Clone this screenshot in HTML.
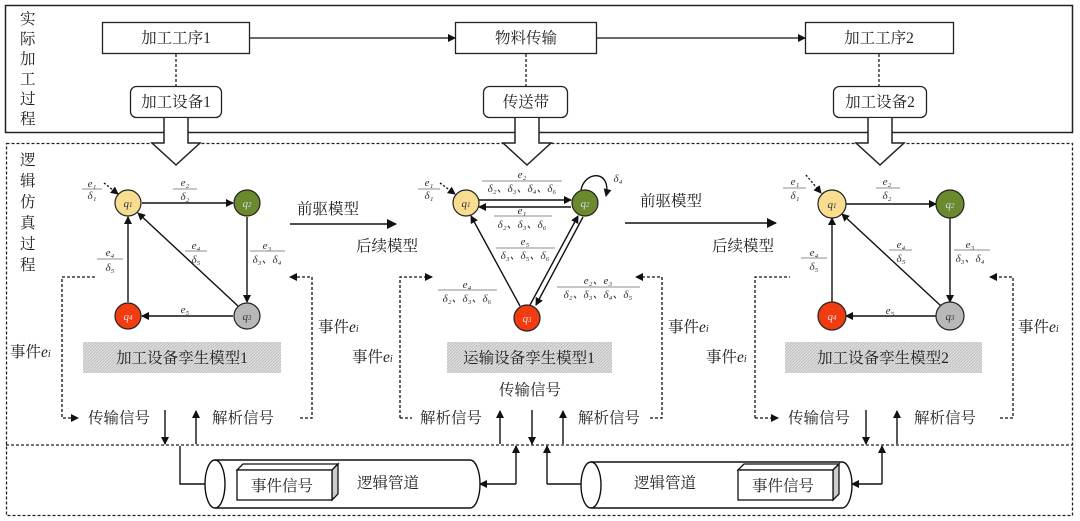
<!DOCTYPE html>
<html><head><meta charset="utf-8"><style>
html,body{margin:0;padding:0;background:#fff}
svg{display:block}
.t{font-family:"Liberation Serif","Noto Serif CJK SC",serif;font-size:15.5px;fill:#222}
.f{font-family:"Liberation Serif",serif;font-style:italic;font-size:11px;fill:#333;text-anchor:middle}
.q{font-family:"Liberation Serif",serif;font-style:italic;font-size:11px;text-anchor:middle}
</style></head><body>
<svg width="1080" height="521" viewBox="0 0 1080 521" xmlns="http://www.w3.org/2000/svg">
<defs>
<marker id="a" markerWidth="8" markerHeight="8" refX="7" refY="4" orient="auto" markerUnits="userSpaceOnUse"><path d="M0,0 L8,4 L0,8 z" fill="#111"/></marker>
<marker id="s" markerWidth="10" markerHeight="10" refX="9" refY="5" orient="auto" markerUnits="userSpaceOnUse"><path d="M0,0 L10,5 L0,10 z" fill="#111"/></marker>
<pattern id="h" width="3" height="3" patternUnits="userSpaceOnUse"><rect width="3" height="3" fill="#ddd"/><path d="M0,3 L3,0" stroke="#bbb" stroke-width="0.8"/></pattern>
</defs>
<rect x="5.5" y="5.5" width="1067" height="127" fill="none" stroke="#222" stroke-width="1.5"/>
<rect x="6.5" y="143.5" width="1066" height="372" fill="none" stroke="#222" stroke-width="1.3" stroke-dasharray="3,2"/>
<line x1="6" y1="445" x2="1073" y2="445" stroke="#222" stroke-width="1.3" stroke-dasharray="3,2"/>
<g class="t">
<text x="20" y="24">实</text><text x="20" y="44">际</text><text x="20" y="64">加</text><text x="20" y="84">工</text><text x="20" y="104">过</text><text x="20" y="124">程</text>
<text x="20" y="165">逻</text><text x="20" y="186">辑</text><text x="20" y="207">仿</text><text x="20" y="228">真</text><text x="20" y="249">过</text><text x="20" y="270">程</text>
</g>
<g fill="#fff" stroke="#222" stroke-width="1.3">
<rect x="102.5" y="22.5" width="147" height="31"/>
<rect x="455.5" y="22.5" width="141" height="31"/>
<rect x="805.5" y="22.5" width="148" height="31"/>
<rect x="130.5" y="86.5" width="91" height="31" rx="6"/>
<rect x="483.5" y="86.5" width="84" height="31" rx="6"/>
<rect x="833.5" y="86.5" width="93" height="31" rx="6"/>
</g>
<g stroke="#222" stroke-width="1.3" stroke-dasharray="3,2"><line x1="176" y1="54" x2="176" y2="86"/><line x1="526" y1="54" x2="526" y2="86"/><line x1="879" y1="54" x2="879" y2="86"/></g>
<g stroke="#111" stroke-width="1.3"><line x1="250" y1="38" x2="455" y2="38" marker-end="url(#a)"/><line x1="597" y1="38" x2="805" y2="38" marker-end="url(#a)"/></g>
<g class="t" text-anchor="middle">
<text x="176" y="43">加工工序1</text><text x="526" y="43">物料传输</text><text x="879" y="43">加工工序2</text>
<text x="176" y="107">加工设备1</text><text x="526" y="107">传送带</text><text x="880" y="107">加工设备2</text>
</g>
<g fill="#fff" stroke="#222" stroke-width="1.5">
<path d="M164,118 V143 H152 L176,165 L200,143 H188 V118"/>
<path d="M515,118 V143 H503 L527,165 L551,143 H539 V118"/>
<path d="M868,118 V143 H856 L880,165 L904,143 H892 V118"/>
</g>

<!-- Graph 1 -->
<g stroke="#111" stroke-width="1.4" fill="none">
<line x1="142" y1="203" x2="233" y2="203" marker-end="url(#a)"/>
<line x1="247" y1="217" x2="247" y2="302" marker-end="url(#a)"/>
<line x1="233" y1="316" x2="142" y2="316" marker-end="url(#a)"/>
<line x1="128" y1="302" x2="128" y2="217" marker-end="url(#a)"/>
<line x1="238" y1="306" x2="138" y2="213" marker-end="url(#a)"/>
<line x1="104" y1="183" x2="118" y2="194" stroke-dasharray="2,2" marker-end="url(#a)"/>
</g>
<g stroke="#222" stroke-width="1.2">
<circle cx="128" cy="203" r="13" fill="#f8dc90"/><circle cx="247" cy="203" r="13" fill="#6a8a2d"/>
<circle cx="247" cy="316" r="13" fill="#b8b8b8"/><circle cx="128" cy="316" r="13" fill="#f03c10"/>
</g>
<g class="q"><text x="128" y="207" fill="#333">q<tspan font-size="7">1</tspan></text><text x="247" y="207" fill="#cde">q<tspan font-size="7">2</tspan></text><text x="247" y="320" fill="#333">q<tspan font-size="7">3</tspan></text><text x="128" y="320" fill="#fdd">q<tspan font-size="7">4</tspan></text></g>
<g class="f">
<text x="92" y="187">e₁</text><text x="92" y="199">δ₁</text>
<text x="185" y="186">e₂</text><text x="185" y="200">δ₂</text>
<text x="267" y="249">e₃</text><text x="267" y="263">δ₃、δ₄</text>
<text x="196" y="249">e₄</text><text x="196" y="263">δ₅</text>
<text x="110" y="256">e₄</text><text x="110" y="271">δ₅</text>
<text x="185" y="313">e₅</text>
</g>
<g stroke="#666" stroke-width="0.7"><line x1="82" y1="189" x2="102" y2="189"/><line x1="173" y1="189" x2="197" y2="189"/><line x1="250" y1="251" x2="285" y2="251"/><line x1="185" y1="251" x2="207" y2="251"/><line x1="97" y1="259" x2="123" y2="259"/></g>
<rect x="83" y="342" width="198" height="31" fill="url(#h)"/>
<text class="t" x="182" y="363" text-anchor="middle">加工设备孪生模型1</text>

<!-- Graph 2 -->
<g stroke="#111" stroke-width="1.4" fill="none">
<line x1="479" y1="200" x2="571" y2="200" marker-end="url(#a)"/>
<line x1="571" y1="207" x2="479" y2="207" marker-end="url(#a)"/>
<line x1="520" y1="306" x2="471" y2="216" marker-end="url(#a)"/>
<line x1="530" y1="305" x2="578" y2="216" marker-end="url(#a)"/>
<line x1="583" y1="217" x2="536" y2="305" marker-end="url(#a)"/>
<path d="M581,190 C585,170 612,170 606,196" marker-end="url(#a)"/>
<line x1="440" y1="183" x2="455" y2="194" stroke-dasharray="2,2" marker-end="url(#a)"/>
</g>
<g stroke="#222" stroke-width="1.2">
<circle cx="466" cy="203" r="13" fill="#f8dc90"/><circle cx="585" cy="203" r="13" fill="#6a8a2d"/><circle cx="527" cy="318" r="13" fill="#f03c10"/>
</g>
<g class="q"><text x="466" y="207" fill="#333">q<tspan font-size="7">1</tspan></text><text x="585" y="207" fill="#cde">q<tspan font-size="7">2</tspan></text><text x="527" y="322" fill="#fdd">q<tspan font-size="7">3</tspan></text></g>
<g class="f">
<text x="429" y="186">e₁</text><text x="429" y="199">δ₁</text>
<text x="522" y="178">e₂</text><text x="522" y="192">δ₂、δ₃、δ₄、δ₆</text>
<text x="522" y="214">e₁</text><text x="522" y="228">δ₂、δ₃、δ₆</text>
<text x="525" y="245">e₅</text><text x="525" y="259">δ₃、δ₅、δ₆</text>
<text x="467" y="288">e₄</text><text x="467" y="302">δ₂、δ₃、δ₆</text>
<text x="598" y="284">e₂、e₃</text><text x="598" y="298">δ₂、δ₃、δ₄、δ₅</text>
<text x="618" y="182">δ₄</text>
</g>
<g stroke="#666" stroke-width="0.7"><line x1="482" y1="181" x2="562" y2="181"/><line x1="418" y1="189" x2="440" y2="189"/><line x1="494" y1="216" x2="552" y2="216"/><line x1="496" y1="248" x2="555" y2="248"/><line x1="438" y1="290" x2="497" y2="290"/><line x1="557" y1="287" x2="640" y2="287"/></g>
<rect x="447" y="342" width="165" height="31" fill="url(#h)"/>
<text class="t" x="529" y="363" text-anchor="middle">运输设备孪生模型1</text>
<text class="t" x="530" y="395" text-anchor="middle">传输信号</text>

<!-- Graph 3 -->
<g stroke="#111" stroke-width="1.4" fill="none">
<line x1="846" y1="204" x2="936" y2="204" marker-end="url(#a)"/>
<line x1="950" y1="218" x2="950" y2="302" marker-end="url(#a)"/>
<line x1="936" y1="316" x2="846" y2="316" marker-end="url(#a)"/>
<line x1="832" y1="302" x2="832" y2="218" marker-end="url(#a)"/>
<line x1="941" y1="306" x2="842" y2="214" marker-end="url(#a)"/>
<line x1="806" y1="175" x2="821" y2="193" stroke-dasharray="2,2" marker-end="url(#a)"/>
</g>
<g stroke="#222" stroke-width="1.2">
<circle cx="832" cy="204" r="14" fill="#f8dc90"/><circle cx="950" cy="204" r="14" fill="#6a8a2d"/>
<circle cx="950" cy="316" r="14" fill="#b8b8b8"/><circle cx="832" cy="316" r="14" fill="#f03c10"/>
</g>
<g class="q"><text x="832" y="208" fill="#333">q<tspan font-size="7">1</tspan></text><text x="950" y="208" fill="#cde">q<tspan font-size="7">2</tspan></text><text x="950" y="320" fill="#333">q<tspan font-size="7">3</tspan></text><text x="832" y="320" fill="#fdd">q<tspan font-size="7">4</tspan></text></g>
<g class="f">
<text x="795" y="185">e₁</text><text x="795" y="199">δ₁</text>
<text x="887" y="185">e₂</text><text x="887" y="199">δ₂</text>
<text x="970" y="248">e₃</text><text x="970" y="262">δ₃、δ₄</text>
<text x="901" y="248">e₄</text><text x="901" y="262">δ₅</text>
<text x="814" y="256">e₄</text><text x="814" y="270">δ₅</text>
<text x="890" y="314">e₅</text>
</g>
<g stroke="#666" stroke-width="0.7"><line x1="783" y1="188" x2="806" y2="188"/><line x1="876" y1="188" x2="900" y2="188"/><line x1="954" y1="250" x2="990" y2="250"/><line x1="889" y1="250" x2="912" y2="250"/><line x1="801" y1="258" x2="827" y2="258"/></g>
<rect x="785" y="342" width="197" height="31" fill="url(#h)"/>
<text class="t" x="883" y="363" text-anchor="middle">加工设备孪生模型2</text>

<g stroke="#111" stroke-width="1.5"><line x1="290" y1="224" x2="396" y2="224" marker-end="url(#s)"/><line x1="625" y1="223" x2="776" y2="223" marker-end="url(#s)"/></g>
<g class="t"><text x="297" y="214">前驱模型</text><text x="356" y="251">后续模型</text><text x="640" y="206">前驱模型</text><text x="712" y="251">后续模型</text></g>

<g stroke="#111" stroke-width="1.3" fill="none" stroke-dasharray="3,2">
<path d="M95,277 H62 V418 H78" marker-end="url(#a)"/>
<path d="M300,418 H312 V277 H290" marker-end="url(#a)"/>
<path d="M400,418 H412 M400,418 V277 H432" marker-end="url(#a)"/>
<path d="M650,418 H662 V277 H636" marker-end="url(#a)"/>
<path d="M755,418 V277 H790 M755,418 H778" marker-end="url(#a)"/>
<path d="M1000,418 H1013 V277 H990" marker-end="url(#a)"/>
</g>
<g class="t">
<text x="88" y="423">传输信号</text><text x="212" y="423">解析信号</text>
<text x="420" y="423">解析信号</text><text x="578" y="423">解析信号</text>
<text x="788" y="423">传输信号</text><text x="914" y="423">解析信号</text>
<text x="10" y="357">事件<tspan font-style="italic">e<tspan font-size="10">i</tspan></tspan></text>
<text x="318" y="332">事件<tspan font-style="italic">e<tspan font-size="10">i</tspan></tspan></text>
<text x="352" y="362">事件<tspan font-style="italic">e<tspan font-size="10">i</tspan></tspan></text>
<text x="668" y="332">事件<tspan font-style="italic">e<tspan font-size="10">i</tspan></tspan></text>
<text x="706" y="362">事件<tspan font-style="italic">e<tspan font-size="10">i</tspan></tspan></text>
<text x="1018" y="332">事件<tspan font-style="italic">e<tspan font-size="10">i</tspan></tspan></text>
</g>
<g stroke="#111" stroke-width="1.4" fill="none">
<line x1="165" y1="410" x2="165" y2="444" marker-end="url(#a)"/>
<line x1="196" y1="444" x2="196" y2="411" marker-end="url(#a)"/>
<line x1="500" y1="444" x2="500" y2="411" marker-end="url(#a)"/>
<line x1="532" y1="410" x2="532" y2="444" marker-end="url(#a)"/>
<line x1="563" y1="444" x2="563" y2="411" marker-end="url(#a)"/>
<line x1="866" y1="410" x2="866" y2="444" marker-end="url(#a)"/>
<line x1="897" y1="444" x2="897" y2="411" marker-end="url(#a)"/>
<path d="M180,446 V484 H212" marker-end="url(#a)"/>
<path d="M516,484 V446" marker-end="url(#a)"/>
<path d="M516,484 H480" marker-end="url(#a)"/>
<path d="M547,484 V446" marker-end="url(#a)"/>
<path d="M547,484 H589" marker-end="url(#a)"/>
<path d="M882,484 V446" marker-end="url(#a)"/>
<path d="M882,484 H852" marker-end="url(#a)"/>
</g>
<g stroke="#111" stroke-width="1.4" fill="#fff">
<path d="M215,460 H470 A10,24 0 0 1 470,508 H215"/>
<ellipse cx="215" cy="484" rx="10" ry="24"/>
<path d="M591,462 H842 A10,23 0 0 1 842,508 H591"/>
<ellipse cx="591" cy="485" rx="10" ry="23"/>
</g>
<g stroke="#111" stroke-width="1.3" fill="#fff">
<path d="M237,470 L243,464 H338 L332,470 Z"/><path d="M332,470 L338,464 V494 L332,500 Z" fill="#ccc"/>
<rect x="237" y="470" width="95" height="30"/>
<path d="M738,470 L744,464 H839 L833,470 Z"/><path d="M833,470 L839,464 V494 L833,500 Z" fill="#ccc"/>
<rect x="738" y="470" width="95" height="30"/>
</g>
<g class="t">
<text x="251" y="491">事件信号</text><text x="357" y="488">逻辑管道</text>
<text x="634" y="488">逻辑管道</text><text x="752" y="491">事件信号</text>
</g>
</svg>
</body></html>
